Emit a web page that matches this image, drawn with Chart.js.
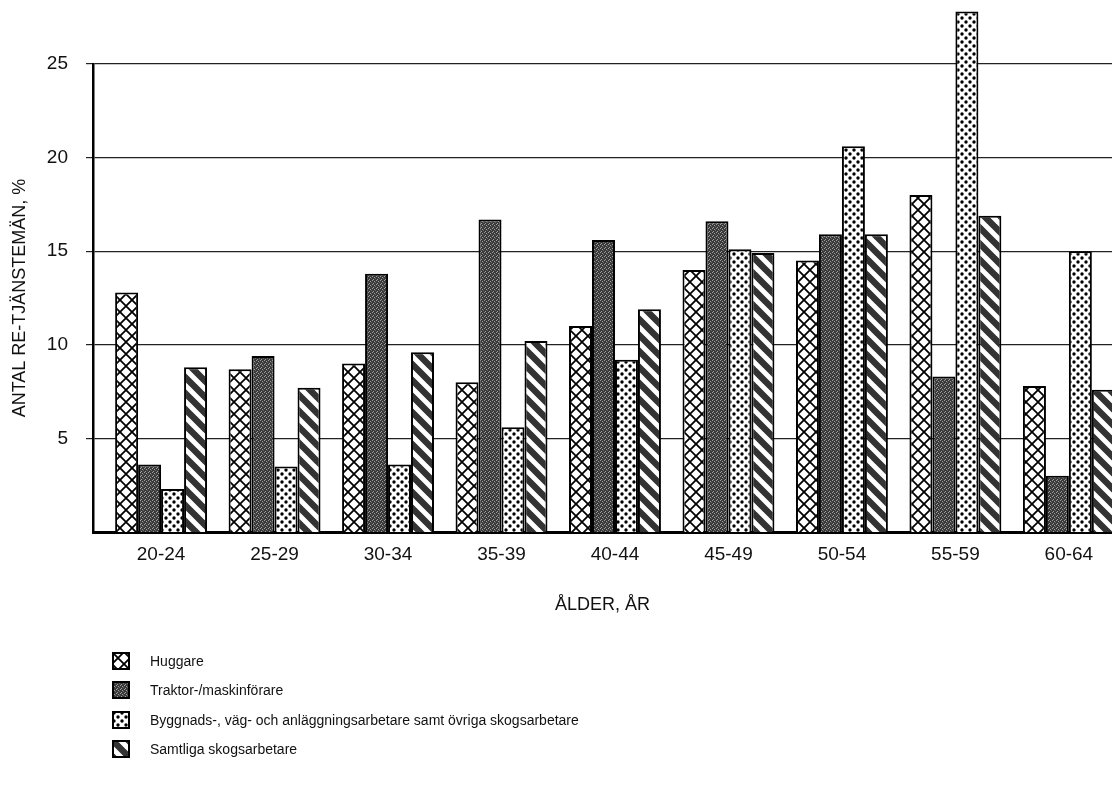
<!DOCTYPE html>
<html lang="sv">
<head>
<meta charset="utf-8">
<title>RE-tjänstemän per åldersgrupp</title>
<script src="https://cdn.jsdelivr.net/npm/chart.js@4.4.0/dist/chart.umd.min.js"></script>
<style>
    html, body { margin: 0; padding: 0; background: #fff; overflow: hidden; }
    #wrap { position: relative; width: 1112px; height: 796px; }
    #chart1 { position: absolute; left: 0; top: 0; }
    #legend { position: absolute; left: 112px; top: 646px; font-family: "Liberation Sans", Arial, sans-serif; font-size: 14px; color: #111; }
    .row { height: 29.5px; display: flex; align-items: center; }
    .row canvas { margin-right: 20px; }
</style>
</head>
<body>
<div id="wrap">
    <canvas id="chart1" width="1112" height="630"></canvas>
    <div id="legend"></div>
</div>
<script>
"use strict";

// age groups on the x axis
var ageGroups = ['20-24', '25-29', '30-34', '35-39', '40-44', '45-49', '50-54', '55-59', '60-64'];

// share of RE-tjänstemän, %
var huggare  = [12.8, 8.7, 9.0, 8.0, 11.0, 14.0, 14.5, 18.0, 7.8];
var traktor  = [3.6, 9.4, 13.8, 16.7, 15.6, 16.6, 15.9, 8.3, 3.0];
var byggnads = [2.3, 3.5, 3.6, 5.6, 9.2, 15.1, 20.6, 27.8, 15.0];
var samtliga = [8.8, 7.7, 9.6, 10.2, 11.9, 14.9, 15.9, 16.9, 7.6];

var yTicks = [5, 10, 15, 20, 25];

var fontFamily = '"Liberation Sans", Arial, sans-serif';

// --- fill patterns, drawn on small tiles ---
function tile(size, draw) {
    var c = document.createElement('canvas');
    c.width = size;
    c.height = size;
    draw(c.getContext('2d'), size);
    return c;
}

var crossTile = tile(12, function(g, s) {
    g.fillStyle = '#fff';
    g.fillRect(0, 0, s, s);
    g.strokeStyle = '#000';
    g.lineWidth = 1.8;
    g.beginPath();
    g.moveTo(-1, -1); g.lineTo(s + 1, s + 1);
    g.moveTo(s + 1, -1); g.lineTo(-1, s + 1);
    g.stroke();
});

var darkTile = tile(4, function(g, s) {
    g.fillStyle = '#3a3a3a';
    g.fillRect(0, 0, s, s);
    g.fillStyle = '#a0a0a0';
    g.fillRect(0, 0, 1, 1);
    g.fillRect(2, 1, 1, 1);
    g.fillRect(1, 3, 1, 1);
    g.fillStyle = '#6a6a6a';
    g.fillRect(3, 2, 1, 1);
});

var dotTile = tile(8, function(g, s) {
    g.fillStyle = '#fff';
    g.fillRect(0, 0, s, s);
    g.fillStyle = '#000';
    g.beginPath();
    g.arc(2, 2, 1.7, 0, Math.PI * 2);
    g.arc(6, 6, 1.7, 0, Math.PI * 2);
    g.fill();
});

var stripeTile = tile(16, function(g, s) {
    g.fillStyle = '#fff';
    g.fillRect(0, 0, s, s);
    g.strokeStyle = '#333';
    g.lineWidth = 6.5;
    g.beginPath();
    for (var k = -1; k <= 1; k++) {
        g.moveTo(k * s - 2, -2);
        g.lineTo(k * s + s + 2, s + 2);
    }
    g.stroke();
});

var ctx = document.getElementById('chart1').getContext('2d');

function pat(c, t) {
    return c.createPattern(t, 'repeat');
}

function points(arr) {
    return arr.map(function(v, i) {
        return { x: i, y: v };
    });
}

var seriesDefs = [
    { label: 'Huggare', data: huggare, tile: crossTile },
    { label: 'Traktor-/maskinförare', data: traktor, tile: darkTile },
    { label: 'Byggnads-, väg- och anläggningsarbetare samt övriga skogsarbetare', data: byggnads, tile: dotTile },
    { label: 'Samtliga skogsarbetare', data: samtliga, tile: stripeTile }
];

var datasets = seriesDefs.map(function(s) {
    return {
        label: s.label,
        data: points(s.data),
        backgroundColor: pat(ctx, s.tile),
        borderColor: '#000',
        borderWidth: 2,
        clip: false
    };
});

var myChart = new Chart(ctx, {
    type: 'bar',
    data: {
        datasets: datasets
    },
    options: {
        responsive: false,
        animation: false,
        categoryPercentage: 0.81,
        barPercentage: 1.0,
        layout: {
            padding: { top: 64, right: 0, bottom: 0, left: 0 }
        },
        plugins: {
            legend: { display: false },
            tooltip: { enabled: false }
        },
        scales: {
            x: {
                type: 'linear',
                min: -0.6,
                max: 8.38,
                offset: false,
                grid: { display: false, drawTicks: false, offset: false },
                border: { display: true, color: '#000', width: 3 },
                afterBuildTicks: function(scale) {
                    scale.ticks = ageGroups.map(function(g, i) {
                        return { value: i };
                    });
                },
                afterFit: function(scale) {
                    scale.height = 98;
                },
                ticks: {
                    color: '#111',
                    padding: 11,
                    maxRotation: 0,
                    autoSkip: false,
                    font: { family: fontFamily, size: 19 },
                    callback: function(v) {
                        return ageGroups[v];
                    }
                },
                title: {
                    display: true,
                    text: 'ÅLDER, ÅR',
                    color: '#111',
                    font: { family: fontFamily, size: 18 },
                    padding: { top: 0, bottom: 14 }
                }
            },
            y: {
                min: 0,
                max: 25,
                afterBuildTicks: function(scale) {
                    scale.ticks = yTicks.map(function(v) {
                        return { value: v };
                    });
                },
                afterFit: function(scale) {
                    scale.width = 93;
                },
                grid: { color: '#222', lineWidth: 1.2, drawTicks: true, tickLength: 7 },
                border: { display: true, color: '#000', width: 2.5 },
                ticks: {
                    color: '#111',
                    padding: 18,
                    font: { family: fontFamily, size: 19 }
                },
                title: {
                    display: true,
                    text: 'ANTAL RE-TJÄNSTEMÄN, %',
                    color: '#111',
                    font: { family: fontFamily, size: 18 },
                    padding: { top: 9, bottom: 0 }
                }
            }
        }
    }
});

// legend below the chart, one row per series
var legendEl = document.getElementById('legend');
seriesDefs.forEach(function(s) {
    var row = document.createElement('div');
    row.className = 'row';
    var sw = document.createElement('canvas');
    sw.width = 18;
    sw.height = 18;
    var g = sw.getContext('2d');
    g.fillStyle = pat(g, s.tile);
    g.fillRect(1, 1, 16, 16);
    g.strokeStyle = '#000';
    g.lineWidth = 2;
    g.strokeRect(1, 1, 16, 16);
    var txt = document.createElement('span');
    txt.textContent = s.label;
    row.appendChild(sw);
    row.appendChild(txt);
    legendEl.appendChild(row);
});
</script>
</body>
</html>
